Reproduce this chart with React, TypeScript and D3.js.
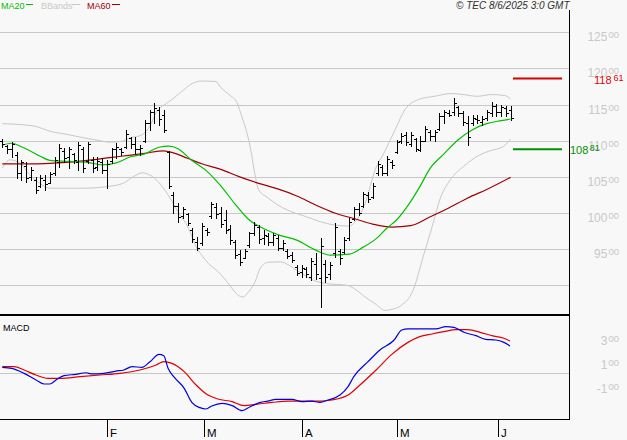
import React from 'react';
import * as d3 from 'd3';

// ---- OHLC data (one bar per trading day, Jan -> early Jun 2025) ----
const highs = [11028,10944,10986,10847,10736,10708,10639,10500,10528,10528,10569,10778,10958,10903,10917,10833,10986,10917,10986,10778,10778,10764,10736,10903,10972,10903,11153,11056,11056,10944,11292,11431,11528,11472,11431,10861,10296,10135,10088,9995,9787,9671,9856,9787,10157,10135,10088,10042,9833,9625,9486,9509,9740,9880,9830,9764,9718,9718,9694,9625,9509,9463,9278,9278,9255,9371,9440,9648,9347,9324,9856,9509,9671,9926,10088,10135,10296,10296,10412,10713,10667,10782,10736,11014,11106,11116,11116,11037,11060,11199,11153,11153,11384,11431,11431,11593,11477,11407,11338,11361,11361,11338,11431,11532,11514,11500,11486,11477];
const lows = [10917,10833,10778,10486,10458,10431,10458,10278,10361,10319,10417,10528,10639,10708,10625,10694,10597,10569,10694,10569,10597,10556,10347,10694,10764,10806,10903,10903,10833,10806,10986,11153,11250,11222,11125,10347,9995,9880,9926,9833,9602,9486,9556,9694,9926,9926,9810,9718,9578,9371,9278,9371,9532,9694,9590,9578,9556,9556,9486,9486,9371,9324,9139,9116,9116,9069,9093,8699,9046,9093,9394,9301,9440,9625,9903,9972,10088,10157,10204,10528,10528,10528,10621,10829,10968,10944,10921,10852,10852,10991,11014,10991,11153,11246,11338,11361,11338,11222,10944,11222,11246,11222,11292,11338,11338,11338,11338,11292];
const opens = [10990,10930,10880,10800,10560,10650,10500,10450,10380,10450,10420,10560,10700,10860,10780,10820,10700,10880,10720,10740,10640,10700,10600,10720,10880,10880,10920,11040,10960,10880,11000,11250,11400,11420,11350,10850,10250,10100,9960,9980,9760,9600,9580,9760,9960,10080,10000,9900,9780,9600,9430,9380,9560,9720,9800,9650,9680,9600,9660,9520,9480,9420,9250,9180,9220,9120,9300,9100,9300,9150,9450,9480,9460,9650,9920,10050,10100,10250,10220,10550,10640,10560,10700,10850,10990,11080,10960,11020,10870,11000,11120,11060,11160,11340,11380,11400,11460,11380,11250,11240,11300,11260,11320,11380,11480,11400,11450,11420];
const closes = [10950,10880,10950,10560,10700,10480,10600,10320,10480,10400,10540,10740,10900,10760,10880,10740,10940,10620,10950,10620,10720,10600,10680,10880,10920,10840,11100,10950,10880,10900,11250,11400,11450,11300,11150,10380,10100,9950,10060,9860,9640,9520,9820,9740,10120,9980,9850,9760,9620,9420,9320,9480,9720,9840,9640,9700,9600,9690,9520,9580,9400,9350,9170,9240,9150,9330,9150,9550,9120,9280,9800,9380,9620,9880,10050,10000,10260,10200,10380,10680,10560,10750,10660,10980,11060,10980,11080,10880,10990,11160,11060,11120,11340,11400,11360,11520,11380,11260,11050,11320,11280,11300,11400,11480,11400,11460,11380,11310];

// ---- indicator readings: [bar index, value] ----
const ma20Pts: [number, number][] = [[0,10937],[2,10965],[4,10917],[6,10854],[8,10785],[10,10729],[14,10715],[18,10701],[21,10667],[24,10694],[27,10778],[30,10819],[33,10910],[35,10924],[37,10889],[40,10722],[43,10583],[46,10375],[49,10125],[52,9903],[54,9819],[58,9701],[62,9625],[66,9486],[69,9417],[73,9431],[76,9528],[79,9660],[81,9792],[83,9903],[86,10160],[88,10375],[90,10611],[93,10819],[96,11014],[99,11153],[102,11236],[105,11278],[107,11301]];
const ma60Pts: [number, number][] = [[0,10681],[5,10681],[10,10688],[15,10708],[20,10743],[25,10785],[30,10826],[34,10861],[36,10833],[39,10757],[42,10681],[46,10604],[50,10500],[54,10410],[58,10333],[62,10236],[66,10111],[70,10000],[74,9924],[78,9847],[82,9806],[86,9826],[90,9944],[94,10069],[98,10208],[102,10326],[107,10493]];
const bbUpperPts: [number, number][] = [[0,11236],[4,11222],[7,11199],[10,11132],[14,11083],[17,11042],[20,11007],[23,10979],[25,10990],[27,11042],[29,11069],[31,11194],[32.5,11403],[34.5,11514],[35.7,11569],[37.5,11667],[40,11792],[42,11826],[45,11819],[46,11736],[48,11625],[49.4,11528],[50.5,11319],[51.5,11111],[52.5,10806],[53.2,10528],[54,10319],[56,10208],[58,10111],[60,10042],[64,9949],[67,9879],[70,9833],[73,9819],[74,9857],[76.4,10135],[78.5,10597],[80.5,10847],[82.7,11153],[84.8,11431],[87.6,11569],[91,11615],[94.6,11653],[97,11639],[100,11615],[103,11639],[105.8,11625],[107,11579]];
const bbLowerPts: [number, number][] = [[0,10621],[1.6,10736],[3.7,10690],[5.8,10528],[7.9,10412],[10,10343],[17,10343],[22,10365],[25.5,10412],[27.6,10504],[29.5,10556],[31,10528],[32.8,10435],[34.9,10250],[37,10018],[39.2,9788],[41,9510],[42,9417],[43.4,9301],[45.5,9185],[47.6,9024],[49.7,8861],[50.7,8838],[51.8,8907],[53.2,9046],[54.3,9236],[56,9319],[58.5,9324],[62,9208],[65.5,9069],[68.3,9024],[72.5,9000],[74,8958],[76.4,8838],[78.5,8746],[80.6,8653],[82,8667],[84,8722],[86.5,8931],[88.6,9393],[90.7,9857],[92.1,10181],[94.3,10458],[97.1,10643],[100.6,10806],[102.7,10861],[105.5,10921],[107,11024]];
const macdPts: [number, number][] = [[0,43],[2,35],[4.6,-7],[7.1,-62],[8.8,-96],[10,-96],[11.3,-62],[13,-26],[15.5,-15],[17.6,-2],[18.9,-12],[21.4,-7],[23.9,12],[25.6,21],[27.3,49],[29.4,43],[31.1,90],[33,151],[34,140],[34.9,35],[36.1,-35],[38.3,-132],[39.9,-249],[41.6,-293],[42.9,-304],[44.1,-279],[46.3,-257],[48.4,-276],[50.5,-318],[52.2,-285],[54.3,-249],[55.9,-238],[57.6,-224],[61,-224],[63.1,-243],[65.2,-238],[66.9,-249],[68.6,-229],[71.1,-188],[72.8,-118],[74,-35],[77,90],[79.5,188],[82.5,271],[84.1,354],[85.4,363],[91.3,363],[93.4,382],[95.1,376],[97.2,335],[99.7,307],[101.8,276],[103.9,271],[105.6,251],[106.9,221]];
const signalPts: [number, number][] = [[0,49],[2.5,49],[4.6,21],[7.1,-21],[9.6,-49],[12.1,-49],[16.4,-35],[20.6,-21],[24.8,-7],[29,21],[32.4,63],[34,90],[35.7,76],[38.3,7],[40.8,-104],[43.3,-188],[45.4,-221],[48.4,-243],[50.9,-276],[53.4,-265],[56.8,-249],[60.2,-238],[63.5,-238],[66.9,-238],[69.4,-229],[72.8,-188],[75.3,-104],[78.7,21],[82,151],[85.4,251],[87.9,299],[90.5,321],[93,340],[95.5,357],[98,357],[100.6,335],[103.1,307],[105.6,285],[106.9,262]];

// ---- axes ----
const priceGrid = [12500, 12000, 11500, 11000, 10500, 10000, 9500, 9000];
const priceLabels = [12500, 12000, 11500, 11000, 10500, 10000, 9500];
const macdLabels = [300, 100, -100];
const monthLabels = ['F', 'M', 'A', 'M', 'J'];
const monthPos = [22, 42.5, 63.1, 83.1, 104.4];
const resistance = 11861;
const support = 10881;

const FONT = 'Liberation Sans, Arial, sans-serif';
const split = (v: number): [string, string] => {
  const big = Math.trunc(v / 100);
  const small = String(Math.abs(Math.round(v)) % 100).padStart(2, '0');
  return [String(big), small];
};

export default function App() {
  const x = d3.scaleLinear().domain([0, 107]).range([2.3, 510.5]);
  const y = d3.scaleLinear().domain([9000, 12500]).range([285.3, 32.3]);
  const ym = d3.scaleLinear().domain([0, 300]).range([372.5, 336.5]);
  const mk = (s: d3.ScaleLinear<number, number>) =>
    d3.line<[number, number]>().x(d => x(d[0])).y(d => s(d[1])).curve(d3.curveMonotoneX);
  const lp = mk(y);
  const lm = mk(ym);

  const barPath = highs.map((h, i) => {
    const X = Math.round(x(i)) + 0.5;
    const yh = Math.round(y(h));
    const yl = Math.round(y(lows[i])) + 1;
    const yo = Math.round(y(opens[i])) + 0.5;
    const yc = Math.round(y(closes[i])) + 0.5;
    return `M${X},${yh}V${yl}M${X - 2.5},${yo}H${X}M${X},${yc}H${X + 2.5}`;
  }).join('');

  return (
    <div>
      <style>{`body{margin:0}`}</style>
      <svg width={627} height={440} style={{ display: 'block' }} fontFamily={FONT}>
        <rect x={0} y={0} width={627} height={440} fill="#f8f8f8" />
        <defs>
          <clipPath id="mainClip"><rect x={0} y={11} width={569} height={303} /></clipPath>
          <clipPath id="macdClip"><rect x={0} y={316} width={569} height={103} /></clipPath>
        </defs>

        {/* header */}
        <text x={1} y={9} fontSize={9} fill="#00c000">MA20</text>
        <line x1={26} x2={33} y1={4.5} y2={4.5} stroke="#00c000" strokeWidth={1} />
        <text x={41} y={9} fontSize={9} fill="#c8c8c8">BBands</text>
        <line x1={72} x2={80} y1={4.5} y2={4.5} stroke="#c8c8c8" strokeWidth={1} />
        <text x={87} y={9} fontSize={9} fill="#a00000">MA60</text>
        <line x1={112} x2={120} y1={4.5} y2={4.5} stroke="#a00000" strokeWidth={1} />
        <text x={456} y={9} fontSize={10} fontStyle="italic" fill="#303030">© TEC 8/6/2025 3:0 GMT</text>

        {/* grid */}
        {priceGrid.map(v => (
          <line key={v} x1={0} x2={569} y1={Math.round(y(v)) + 0.5} y2={Math.round(y(v)) + 0.5} stroke="#c8c8c8" />
        ))}
        {priceLabels.map(v => {
          const [a, b] = split(v);
          return (
            <text key={v} x={619} y={y(v) + 9} textAnchor="end" fill="#c8c8c8">
              <tspan fontSize={12}>{a}</tspan>
              <tspan fontSize={9.5} dx={1} dy={-3}>{b}</tspan>
            </text>
          );
        })}

        {/* indicators */}
        <g clipPath="url(#mainClip)" fill="none">
          <path d={lp(bbUpperPts) || ''} stroke="#c8c8c8" strokeWidth={1} />
          <path d={lp(bbLowerPts) || ''} stroke="#c8c8c8" strokeWidth={1} />
          <path d={lp(ma60Pts) || ''} stroke="#a00000" strokeWidth={1.2} />
          <path d={lp(ma20Pts) || ''} stroke="#00c000" strokeWidth={1.2} />
          <path d={barPath} stroke="#000" strokeWidth={1} shapeRendering="crispEdges" />
        </g>

        {/* resistance / support */}
        <line x1={513} x2={562} y1={y(resistance)} y2={y(resistance)} stroke="#d80000" strokeWidth={2} />
        <text x={594} y={y(resistance) + 5.5} fill="#e00000">
          <tspan fontSize={11}>{split(resistance)[0]}</tspan>
          <tspan fontSize={9} dx={2} dy={-3}>{split(resistance)[1]}</tspan>
        </text>
        <line x1={513} x2={562} y1={y(support)} y2={y(support)} stroke="#009000" strokeWidth={2} />
        <text x={570} y={y(support) + 4.5} fill="#009000">
          <tspan fontSize={11}>{split(support)[0]}</tspan>
          <tspan fontSize={9} dx={1.5} dy={-3}>{split(support)[1]}</tspan>
        </text>

        {/* MACD panel */}
        <line x1={0} x2={569} y1={Math.round(ym(0)) + 0.5} y2={Math.round(ym(0)) + 0.5} stroke="#c8c8c8" />
        <text x={3} y={331} fontSize={9} fill="#000">MACD</text>
        <g clipPath="url(#macdClip)" fill="none">
          <path d={lm(signalPts) || ''} stroke="#e00000" strokeWidth={1.2} />
          <path d={lm(macdPts) || ''} stroke="#0000e0" strokeWidth={1.2} />
        </g>
        {macdLabels.map(v => {
          const [a, b] = split(v);
          return (
            <text key={v} x={619} y={ym(v) + 8.5} textAnchor="end" fill="#c8c8c8">
              <tspan fontSize={12}>{a}</tspan>
              <tspan fontSize={9.5} dx={1} dy={-3}>{b}</tspan>
            </text>
          );
        })}

        {/* frames */}
        <rect x={0} y={314} width={570} height={2} fill="#000" />
        <line x1={0} x2={570} y1={419.5} y2={419.5} stroke="#000" />
        <line x1={569.5} x2={569.5} y1={10} y2={420} stroke="#000" />

        {/* month ticks */}
        {monthLabels.map((m, k) => {
          const X = Math.round(x(monthPos[k])) + 0.5;
          return (
            <g key={k}>
              <line x1={X} x2={X} y1={420} y2={437} stroke="#000" />
              <text x={X + 2.5} y={437} fontSize={11.5} fill="#000">{m}</text>
            </g>
          );
        })}
      </svg>
    </div>
  );
}
